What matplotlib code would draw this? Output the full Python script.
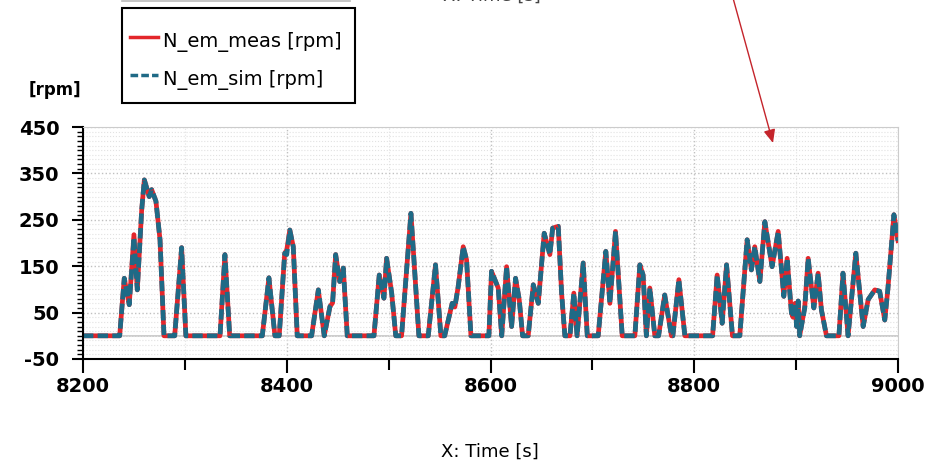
import numpy as np
import matplotlib
matplotlib.use("Agg")
import matplotlib.pyplot as plt
from matplotlib.ticker import MultipleLocator, FixedLocator
from matplotlib.lines import Line2D
from matplotlib.patches import Rectangle

plt.rcParams["axes.unicode_minus"] = False

# Zeit [s] und Drehzahl [rpm]
time_s = [8200, 8236, 8240.5, 8245.4, 8250, 8253.3, 8257.6, 8260.2, 8265, 8267.4,
          8271.6, 8275.6, 8279.5, 8290, 8296.8, 8301, 8334.5, 8339.3, 8344, 8376,
          8382.5, 8388.4, 8392.6, 8398, 8400, 8403, 8406.4, 8410.3, 8424.4, 8431,
          8436.8, 8442.4, 8445, 8448, 8452, 8455.5, 8459.4, 8485.6, 8490.8, 8495.4,
          8498, 8503, 8507, 8512.7, 8521.9, 8529.7, 8538.9, 8546, 8551.3, 8555,
          8562.4, 8565, 8568.3, 8573.2, 8576.5, 8580.8, 8598.4, 8601, 8607.6, 8611,
          8615.8, 8620.7, 8624.6, 8628.2, 8631.5, 8637, 8642, 8646.9, 8652.7, 8658.3,
          8661, 8666.5, 8669.8, 8673, 8678, 8681.8, 8685, 8691, 8695, 8705.7,
          8713.2, 8717.2, 8722.7, 8729.3, 8741.7, 8746.6, 8749.8, 8753, 8756.4, 8761.3,
          8765, 8771, 8777.6, 8779, 8784.9, 8790.8, 8818, 8822.5, 8827.4, 8831.7,
          8837.5, 8844.7, 8851.9, 8856.1, 8859.4, 8864.4, 8869.3, 8876.4, 8882.4, 8887.9,
          8891.2, 8895.4, 8897, 8899, 8900.5, 8902, 8903.5, 8908.5, 8911.8, 8917.4,
          8921.6, 8924.8, 8929.8, 8942, 8946, 8951, 8958.6, 8965.8, 8970.7, 8977.2,
          8982, 8987, 8990, 8996, 9000]

n_em_meas = [0, 0, 124, 67, 218, 99, 271, 336, 300, 315,
             290, 207, 0, 0, 190, 0, 0, 175, 0, 0,
             125, 0, 0, 178, 185, 228, 192, 0, 0, 99,
             0, 63, 71, 175, 117, 146, 0, 0, 131, 81,
             167, 92, 0, 0, 264, 0, 0, 153, 0, 0,
             70, 62, 106, 192, 164, 0, 0, 139, 103, 0,
             149, 20, 124, 78, 0, 0, 110, 70, 221, 175,
             232, 236, 92, 0, 0, 92, 0, 157, 0, 0,
             182, 70, 225, 0, 0, 153, 131, 0, 103, 0,
             0, 88, 0, 0, 121, 0, 0, 131, 27, 153,
             0, 0, 207, 142, 192, 117, 246, 149, 225, 85,
             167, 49, 40, 70, 20, 75, 0, 63, 167, 60,
             135, 56, 0, 0, 135, 0, 178, 20, 78, 99,
             96, 34, 99, 261, 205]

n_em_sim = list(n_em_meas)
n_em_sim[4] = 212
n_em_sim[24] = 175
n_em_sim[117] = 60

t = np.array(time_s)
meas = np.array(n_em_meas)
sim = np.array(n_em_sim)

fig = plt.figure(figsize=(9.3, 4.66), dpi=100)
ax = fig.add_axes([83 / 930, 1 - 359 / 466, 815 / 930, 232 / 466])

ax.plot(t, meas, color="#e3262b", lw=3.4, solid_joinstyle="round", label="N_em_meas [rpm]")
ax.plot(t, sim, color="#1f6a86", lw=3.4, ls=(0, (2.2, 0.9)), label="N_em_sim [rpm]")
ax.axhline(0, color="#c4c4c4", lw=1.2, zorder=0)

ax.set_xlim(8200, 9000)
ax.set_ylim(-50, 450)
ax.xaxis.set_major_locator(MultipleLocator(200))
ax.xaxis.set_minor_locator(MultipleLocator(100))
ax.yaxis.set_major_locator(FixedLocator([-50, 50, 150, 250, 350, 450]))
ax.yaxis.set_minor_locator(MultipleLocator(10))

ax.grid(which="major", ls=":", color="#c0c0c0", lw=1.0)
ax.grid(which="minor", ls=":", color="#e2e2e2", lw=0.8)
ax.set_axisbelow(True)

for s in ["top", "right"]:
    ax.spines[s].set_color("#cccccc")
for s in ["left", "bottom"]:
    ax.spines[s].set_color("black")
    ax.spines[s].set_linewidth(1.5)

ax.tick_params(axis="x", which="major", length=10, width=1.5, labelsize=14, pad=3)
ax.tick_params(axis="x", which="minor", length=8, width=1.5)
ax.tick_params(axis="y", which="major", length=8, width=1.5, labelsize=14, pad=9)
ax.tick_params(axis="y", which="minor", length=4, width=1.0)
for lab in ax.get_yticklabels() + ax.get_xticklabels():
    lab.set_fontweight("bold")

# Legende ohne eigenen Rahmen, Rahmen separat gezeichnet
leg = ax.legend(loc="upper left", bbox_to_anchor=(122 / 930, 1 - 18 / 466),
                bbox_transform=fig.transFigure, fontsize=14, frameon=False,
                borderaxespad=0, borderpad=0.42, handlelength=1.45,
                handleheight=1.95, handletextpad=0.25, labelspacing=0.46)
for h in leg.get_lines():
    h.set_linewidth(2.5)
fig.add_artist(Rectangle((122 / 930, 1 - 103 / 466), 233 / 930, 95 / 466,
                         transform=fig.transFigure, fill=False, edgecolor="black", lw=1.5))

fig.text(55 / 930, 1 - 90 / 466, "[rpm]", fontsize=12, fontweight="bold", ha="center", va="center")
fig.text(490 / 930, 1 - 452 / 466, "X: Time [s]", fontsize=13, ha="center", va="center")

# Reste des darüberliegenden Diagramms
fig.text(492 / 930, 1 + 4 / 466, "X: Time [s]", fontsize=13, ha="center", va="center", color="#444444")
fig.add_artist(Line2D([122 / 930, 350 / 930], [1 - 1 / 466, 1 - 1 / 466],
                      transform=fig.transFigure, color="#bbbbbb", lw=1.2))

ax.annotate("", xy=(773 / 930, 1 - 143 / 466), xytext=(733 / 930, 1 + 2 / 466),
            xycoords="figure fraction", textcoords="figure fraction",
            arrowprops=dict(arrowstyle="-|>,head_length=0.8,head_width=0.35",
                            color="#c4242b", lw=1.0, shrinkA=0, shrinkB=0))

fig.savefig("out.png", dpi=100)
